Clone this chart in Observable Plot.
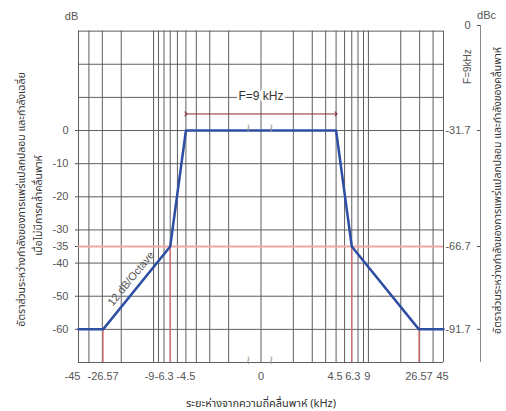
<!DOCTYPE html>
<html>
<head>
<meta charset="utf-8">
<script src="https://cdn.jsdelivr.net/npm/d3@7"></script>
<script src="https://cdn.jsdelivr.net/npm/@observablehq/plot@0.6"></script>
<style>
  html, body { margin: 0; padding: 0; background: #fff; }
  svg { display: block; }
</style>
</head>
<body>
<div id="chart"></div>
<script>
// ---- data ----
const maskX = [-45, -26.57, -6.3, -4.5, 4.5, 6.3, 26.57, 45];
const maskY = [-60, -60, -35, 0, 0, -35, -60, -60];
const xTickVals = [-45, -26.57, -9, -6.3, -4.5, 0, 4.5, 6.3, 9, 26.57, 45];
const xTickLabels = ["-45", "-26.57", "-9", "-6.3", "-4.5", "0", "4.5", "6.3", "9", "26.57", "45"];
const yTicks = [0, -10, -20, -30, -35, -40, -50, -60];
const yTickLabels = ["0", "-10", "-20", "-30", "-35", "-40", "-50", "-60"];
const dbcTickPos = [31.7, 0, -35, -60];
const dbcTickLabels = ["0", "-31.7", "-66.7", "-91.7"];
const gridV = [1, 2, 3, 4, 5, 6, 7, 8, 9, 10, 20, 30, 40, 50];
const gridY = [30, 20, 10, 0, -10, -20, -30, -40, -50, -60, -70];
const refX = [-26.57, -6.3, 6.3, 26.57];
const refY = [-60, -35, -35, -60];

// broken, mirrored log axis: linear inside ±4.5 kHz, log outside
const C = Math.log10(5);
function u(x) {
  const a = Math.abs(x), s = Math.sign(x);
  return a <= 4.5 ? s * a / 4.5 * C : s * Math.log10(a / 0.9);
}
const uMax = u(45);
const pxPerU = (506 - 78 - 63) / (2 * uMax);
const xr = uMax + 37 / pxPerU; // right (dBc) axis position
// small horizontal nudges of crowded tick labels (pixels)
const labelNudge = [-6, 0, -4, -6, 0, 0, -1, 1, -1, 0, -1];

const gridXs = [...gridV.map(v => -Math.log10(v)), ...gridV.filter(v => v > 1).map(v => Math.log10(v))];
const mask = maskX.map((x, i) => ({x: u(x), y: maskY[i]}));
const refs = refX.map((x, i) => ({x: u(x), y: refY[i]}));
const xLabels = xTickVals.map((v, i) => ({x: u(v) + labelNudge[i] / pxPerU, label: xTickLabels[i]}));

const thai = "'Noto Sans Thai', 'Noto Sans', 'DejaVu Sans', sans-serif";
const grey = "#555";

const chart = Plot.plot({
  width: 506,
  height: 411,
  marginLeft: 78,
  marginRight: 63,
  marginTop: 24,
  marginBottom: 49,
  style: {fontFamily: "'Liberation Sans', Arial, sans-serif", background: "#fff"},
  x: {domain: [-uMax, uMax], axis: null},
  y: {domain: [-70, 32], axis: null},
  marks: [
    // grid
    Plot.ruleX(gridXs, {x: d => d, y1: -70, y2: 30, stroke: "#5e5e5e", strokeWidth: 1}),
    Plot.ruleY(gridY, {y: d => d, x1: -uMax, x2: uMax, stroke: "#5e5e5e", strokeWidth: 1}),
    // reference lines
    Plot.ruleY([-35], {y: d => d, x1: -uMax, x2: uMax, stroke: "#f4a6a6", strokeWidth: 2}),
    Plot.ruleX(refs, {x: "x", y1: -70, y2: "y", stroke: "#e06c6c", strokeWidth: 1.2}),
    // left tick marks + labels
    Plot.ruleY(yTicks, {y: d => d, x1: -uMax - 3 / pxPerU, x2: -uMax, stroke: grey}),
    Plot.text(yTicks, {x: -uMax, y: d => d, dx: -10, textAnchor: "end", text: (d, i) => yTickLabels[i], fontSize: 11, fill: grey}),
    // bottom labels
    Plot.text(xLabels, {x: "x", y: -70, dy: 14, text: "label", fontSize: 11, fill: grey}),
    // right dBc axis
    Plot.ruleX([xr], {x: d => d, y1: -70, y2: 31.7, stroke: "#888"}),
    Plot.ruleY(dbcTickPos, {y: d => d, x1: xr - 3 / pxPerU, x2: xr, stroke: grey}),
    Plot.text(dbcTickPos, {x: xr, y: d => d, dx: -10, textAnchor: "end", text: (d, i) => dbcTickLabels[i], fontSize: 11, fill: grey}),
    // unit labels
    Plot.text(["dB"], {x: -uMax, y: 32, dx: -7, dy: -8, fontSize: 11, fill: grey}),
    Plot.text(["dBc"], {x: xr, y: 32, dx: 6, dy: -9, fontSize: 11, fill: grey}),
    Plot.text(["F=9kHz"], {x: xr, y: 19.3, dx: -13, rotate: -90, fontSize: 10, fill: grey}),
    // bandwidth arrow
    Plot.link([{x1: u(-4.5), x2: u(4.5), y: 5}], {x1: "x1", x2: "x2", y1: "y", y2: "y", stroke: "#8b2a2a", strokeWidth: 1, markerStart: "arrow", markerEnd: "arrow"}),
    Plot.text(["F=9 kHz"], {x: 0, y: 10.5, fontSize: 12, fill: "#333", stroke: "#fff", strokeWidth: 5, paintOrder: "stroke"}),
    // spectrum mask
    Plot.line(mask, {x: "x", y: "y", stroke: "#2d4ea3", strokeWidth: 2.5}),
    // slope annotation
    Plot.text(["12 dB/Octave"], {x: u(-14.6), y: -44.7, rotate: -50.7, fontSize: 11, fill: "#555"}),
    // axis break marks
    Plot.text([-0.12, 0.10], {x: d => d, y: 0.6, text: () => "\u2240", fontSize: 12, fill: "#999"}),
    Plot.text([-0.12, 0.10], {x: d => d, y: -70, dy: -2, text: () => "\u2240", fontSize: 12, fill: "#999"}),
    // axis titles
    Plot.text(["ระยะห่างจากความถี่คลื่นพาห์ (kHz)"], {frameAnchor: "bottom", dy: 41, lineAnchor: "middle", textAnchor: "middle", fontSize: 11, fill: "#333", fontFamily: thai}),
    Plot.text(["อัตราส่วนระหว่างกำลังของการแพร่แปลกปลอม และกำลังเฉลี่ย"], {frameAnchor: "left", dx: -57, dy: 6, rotate: -90, textAnchor: "middle", lineAnchor: "middle", fontSize: 10.5, fill: "#333", fontFamily: thai}),
    Plot.text(["เมื่อไม่มีการกล้ำคลื่นพาห์"], {frameAnchor: "left", dx: -40, dy: 12, rotate: -90, textAnchor: "middle", lineAnchor: "middle", fontSize: 10.5, fill: "#333", fontFamily: thai}),
    Plot.text(["อัตราส่วนระหว่างกำลังของการแพร่แปลกปลอม และกำลังของคลื่นพาห์"], {frameAnchor: "right", dx: 54, dy: -3, rotate: -90, textAnchor: "middle", lineAnchor: "middle", fontSize: 10.5, fill: "#333", fontFamily: thai})
  ]
});
document.getElementById("chart").appendChild(chart);
</script>
</body>
</html>
